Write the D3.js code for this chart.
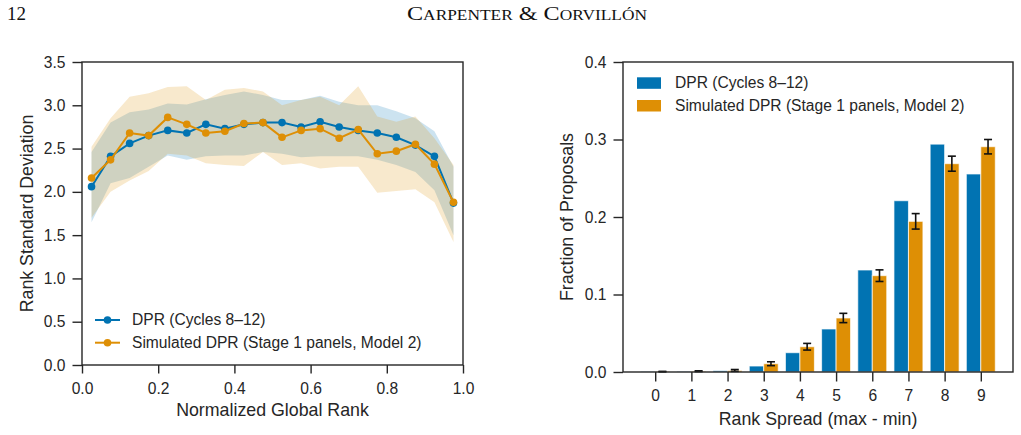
<!DOCTYPE html>
<html>
<head>
<meta charset="utf-8">
<script src="https://cdn.jsdelivr.net/npm/d3@7"></script>
<style>
  html, body { margin: 0; padding: 0; background: #fff; }
  svg { display: block; }
  .tick text { font-family: "Liberation Sans", Arial, sans-serif; font-size: 15.6px; fill: #262626; }
  .lbl { font-family: "Liberation Sans", Arial, sans-serif; font-size: 15.6px; fill: #262626; }
  .axlbl { font-family: "Liberation Sans", Arial, sans-serif; font-size: 17.8px; fill: #262626; }
  .hdr { font-family: "Liberation Serif", "DejaVu Serif", serif; fill: #111; }
</style>
</head>
<body>
<svg id="fig" width="1021" height="435"></svg>
<script>
/* ============================================================
   1. CONFIG
   ============================================================ */
const COLORS = {
  blue   : '#0173b2',
  orange : '#de8f05',
  axis   : '#262626',
  err    : '#111111'
};

/* ============================================================
   2. DATOS — leídos a ojo del gráfico
   ============================================================ */
// Panel izquierdo: rango global normalizado (centros de bins)
const rankX = [0.025, 0.075, 0.125, 0.175, 0.225, 0.275, 0.325, 0.375, 0.425, 0.475,
               0.525, 0.575, 0.625, 0.675, 0.725, 0.775, 0.825, 0.875, 0.925, 0.975];

const dprMean  = [2.06, 2.41, 2.56, 2.65, 2.71, 2.68, 2.78, 2.73, 2.78, 2.80,
                  2.80, 2.75, 2.81, 2.75, 2.71, 2.68, 2.63, 2.54, 2.41, 1.87];
const dprUpper = [2.46, 2.80, 2.92, 2.95, 3.02, 3.01, 3.07, 3.12, 3.16, 3.12,
                  3.06, 3.06, 3.11, 3.04, 3.00, 3.00, 2.93, 2.85, 2.70, 2.29];
const dprLower = [1.65, 2.10, 2.16, 2.29, 2.42, 2.37, 2.41, 2.42, 2.42, 2.46,
                  2.44, 2.40, 2.41, 2.41, 2.41, 2.37, 2.31, 2.23, 2.02, 1.50];

const simMean  = [2.16, 2.37, 2.68, 2.65, 2.86, 2.78, 2.68, 2.70, 2.79, 2.80,
                  2.63, 2.71, 2.73, 2.62, 2.72, 2.44, 2.47, 2.55, 2.32, 1.88];
const simUpper = [2.52, 2.85, 3.10, 3.14, 3.21, 3.22, 3.06, 3.18, 3.20, 3.16,
                  3.00, 3.06, 3.10, 3.00, 3.22, 2.87, 2.81, 2.87, 2.62, 2.31];
const simLower = [1.70, 2.00, 2.13, 2.24, 2.44, 2.42, 2.33, 2.31, 2.30, 2.46,
                  2.31, 2.33, 2.27, 2.29, 2.29, 1.99, 2.01, 2.03, 1.88, 1.42];

const leftYTicks = [0, 0.5, 1.0, 1.5, 2.0, 2.5, 3.0, 3.5];
const leftXTicks = [0, 0.2, 0.4, 0.6, 0.8, 1.0];

// Panel derecho: dispersión de rangos
const spreadCats = [0, 1, 2, 3, 4, 5, 6, 7, 8, 9];
const dprFrac = [0.0005, 0.0007, 0.0017, 0.0077, 0.0249, 0.0555, 0.1316, 0.2210, 0.2940, 0.2555];
const simFrac = [0.0005, 0.0010, 0.0020, 0.0107, 0.0326, 0.0697, 0.1243, 0.1944, 0.2688, 0.2907];
const simErr  = [0.0003, 0.0005, 0.0012, 0.0025, 0.0043, 0.0060, 0.0075, 0.0100, 0.0097, 0.0093];

const rightYTicks = [0, 0.1, 0.2, 0.3, 0.4];

const legendNames = ['DPR (Cycles 8\u201312)', 'Simulated DPR (Stage 1 panels, Model 2)'];

const svg = d3.select('#fig');

/* ============================================================
   3. ENCABEZADO DE PÁGINA
   ============================================================ */
svg.append('text').attr('class', 'hdr')
  .attr('x', 7).attr('y', 20)
  .style('font-size', '19px')
  .text('12');

svg.append('text').attr('class', 'hdr')
  .attr('x', 407).attr('y', 20)
  .style('font-size', '19.5px')
  .style('font-variant', 'small-caps')
  .attr('textLength', 240)
  .attr('lengthAdjust', 'spacingAndGlyphs')
  .text('Carpenter & Corvill\u00f3n');

/* ============================================================
   4. HELPER: estilo de ejes (estilo seaborn "ticks")
   ============================================================ */
function styleAxis(g) {
  g.select('.domain').remove();
  g.selectAll('.tick line').attr('stroke', COLORS.axis).attr('stroke-width', 1.4);
}

function drawFrame(g, x0, x1, y0, y1) {
  g.append('rect')
    .attr('x', x0).attr('y', y0)
    .attr('width', x1 - x0).attr('height', y1 - y0)
    .attr('fill', 'none')
    .attr('stroke', COLORS.axis)
    .attr('stroke-width', 1.4);
}

/* ---------- GRÁFICA 1: desviación estándar del rango ---------- */
function renderChart1() {
  const L = 82, R = 463, T = 62, B = 365;
  const x = d3.scaleLinear().domain([0, 1]).range([L, R]);
  const y = d3.scaleLinear().domain([0, 3.5]).range([B, T]);
  const g = svg.append('g');

  const series = [
    {mean: dprMean, up: dprUpper, lo: dprLower, color: COLORS.blue},
    {mean: simMean, up: simUpper, lo: simLower, color: COLORS.orange}
  ];

  // Bandas
  series.forEach(s => {
    const area = d3.area()
      .x((d, i) => x(rankX[i]))
      .y0((d, i) => y(s.lo[i]))
      .y1((d, i) => y(s.up[i]));
    g.append('path')
      .attr('d', area(rankX))
      .attr('fill', s.color)
      .attr('fill-opacity', 0.2);
  });

  // Líneas + marcadores
  series.forEach(s => {
    const line = d3.line().x((d, i) => x(rankX[i])).y(d => y(d));
    g.append('path')
      .attr('d', line(s.mean))
      .attr('fill', 'none')
      .attr('stroke', s.color)
      .attr('stroke-width', 2);
    g.selectAll(null).data(s.mean).join('circle')
      .attr('cx', (d, i) => x(rankX[i]))
      .attr('cy', d => y(d))
      .attr('r', 3.8)
      .attr('fill', s.color);
  });

  // Ejes
  g.append('g')
    .attr('transform', `translate(0,${B})`)
    .call(d3.axisBottom(x).tickValues(leftXTicks).tickFormat(d3.format('.1f')).tickSize(8.5).tickPadding(9))
    .call(styleAxis);
  g.append('g')
    .attr('transform', `translate(${L},0)`)
    .call(d3.axisLeft(y).tickValues(leftYTicks).tickFormat(d3.format('.1f')).tickSize(9.5).tickPadding(7))
    .call(styleAxis);
  drawFrame(g, L, R, T, B);

  g.append('text').attr('class', 'axlbl')
    .attr('x', (L + R) / 2).attr('y', 416)
    .attr('text-anchor', 'middle')
    .text('Normalized Global Rank');
  g.append('text').attr('class', 'axlbl')
    .attr('transform', `translate(33,${(T + B) / 2}) rotate(-90)`)
    .attr('text-anchor', 'middle')
    .text('Rank Standard Deviation');

  // Leyenda
  [COLORS.blue, COLORS.orange].forEach((c, i) => {
    const ly = 320 + i * 22.7;
    g.append('line')
      .attr('x1', 95).attr('x2', 120).attr('y1', ly).attr('y2', ly)
      .attr('stroke', c).attr('stroke-width', 2);
    g.append('circle').attr('cx', 107.5).attr('cy', ly).attr('r', 3.8).attr('fill', c);
    g.append('text').attr('class', 'lbl')
      .attr('x', 132).attr('y', ly).attr('dy', '0.35em')
      .text(legendNames[i]);
  });
}

/* ---------- GRÁFICA 2: fracción de propuestas por dispersión ---------- */
function renderChart2() {
  const L = 623, R = 1013, T = 62, B = 372;
  const x = d3.scaleLinear().domain([-0.89, 9.89]).range([L, R]);
  const y = d3.scaleLinear().domain([0, 0.4]).range([B, T]);
  const g = svg.append('g');
  const bw = 0.4;

  // Barras DPR (izquierda del tick) y simuladas (derecha)
  g.selectAll('.bar-dpr').data(dprFrac).join('rect')
    .attr('class', 'bar-dpr')
    .attr('x', (d, i) => x(spreadCats[i] - bw))
    .attr('width', x(bw) - x(0))
    .attr('y', d => y(d))
    .attr('height', d => B - y(d))
    .attr('fill', COLORS.blue)
    .attr('stroke', '#ffffff').attr('stroke-opacity', 0.7).attr('stroke-width', 1);

  g.selectAll('.bar-sim').data(simFrac).join('rect')
    .attr('class', 'bar-sim')
    .attr('x', (d, i) => x(spreadCats[i]))
    .attr('width', x(bw) - x(0))
    .attr('y', d => y(d))
    .attr('height', d => B - y(d))
    .attr('fill', COLORS.orange)
    .attr('stroke', '#ffffff').attr('stroke-opacity', 0.7).attr('stroke-width', 1);

  // Barras de error
  simFrac.forEach((v, i) => {
    const cx = x(spreadCats[i] + bw / 2);
    const y1 = y(v + simErr[i]), y2 = y(v - simErr[i]);
    g.append('line').attr('x1', cx).attr('x2', cx).attr('y1', y1).attr('y2', y2)
      .attr('stroke', COLORS.err).attr('stroke-width', 1.6);
    [y1, y2].forEach(yy => {
      g.append('line').attr('x1', cx - 4).attr('x2', cx + 4).attr('y1', yy).attr('y2', yy)
        .attr('stroke', COLORS.err).attr('stroke-width', 1.6);
    });
  });

  g.append('g')
    .attr('transform', `translate(0,${B})`)
    .call(d3.axisBottom(x).tickValues(spreadCats).tickFormat(d3.format('d')).tickSize(9.5).tickPadding(8.5))
    .call(styleAxis);
  g.append('g')
    .attr('transform', `translate(${L},0)`)
    .call(d3.axisLeft(y).tickValues(rightYTicks).tickFormat(d3.format('.1f')).tickSize(9.5).tickPadding(7))
    .call(styleAxis);
  drawFrame(g, L, R, T, B);

  g.append('text').attr('class', 'axlbl')
    .attr('x', (L + R) / 2).attr('y', 425)
    .attr('text-anchor', 'middle')
    .text('Rank Spread (max - min)');
  g.append('text').attr('class', 'axlbl')
    .attr('transform', `translate(573,${(T + B) / 2}) rotate(-90)`)
    .attr('text-anchor', 'middle')
    .text('Fraction of Proposals');

  // Leyenda
  [COLORS.blue, COLORS.orange].forEach((c, i) => {
    const ly = 83 + i * 22.7;
    g.append('rect')
      .attr('x', 637).attr('y', ly - 5.7).attr('width', 24).attr('height', 11.5)
      .attr('fill', c);
    g.append('text').attr('class', 'lbl')
      .attr('x', 675).attr('y', ly).attr('dy', '0.35em')
      .text(legendNames[i]);
  });
}

renderChart1();
renderChart2();
</script>
</body>
</html>
